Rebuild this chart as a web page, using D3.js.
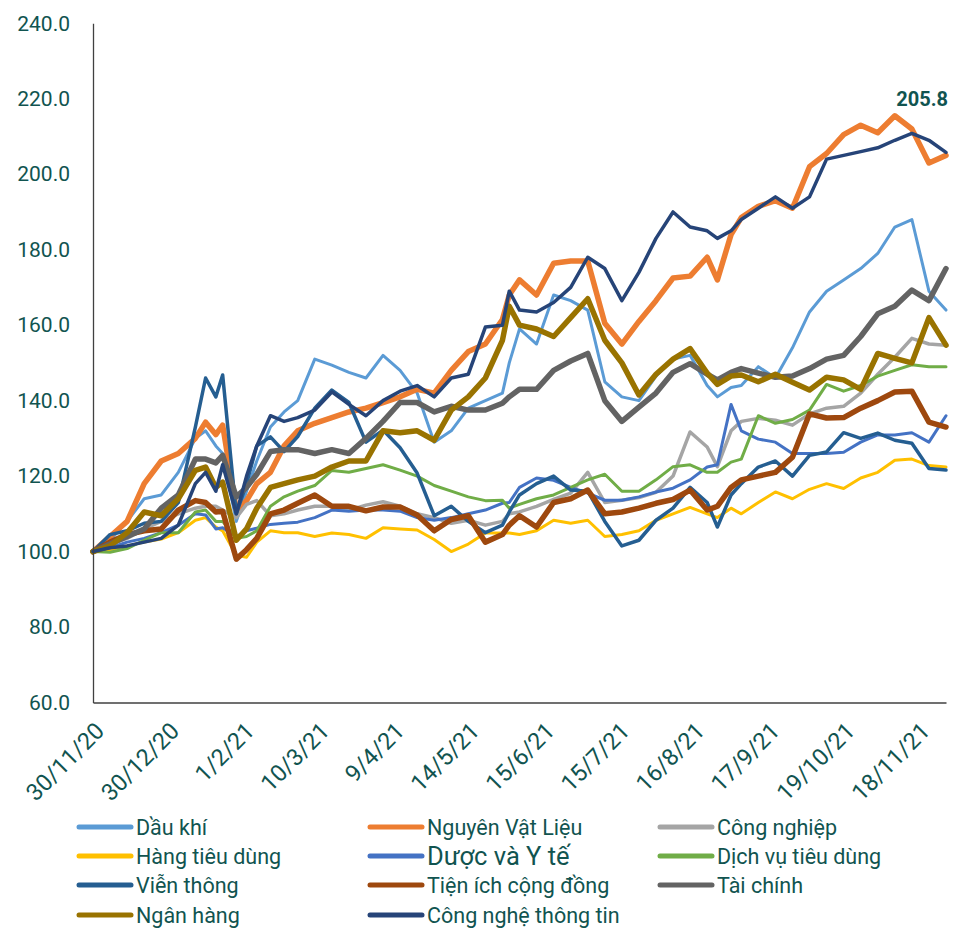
<!DOCTYPE html>
<html><head><meta charset="utf-8">
<script src="https://cdn.jsdelivr.net/npm/d3@7/dist/d3.min.js"></script>
<style>body{margin:0;background:#fff}svg{display:block}</style>
</head><body>
<svg id="chart" width="953" height="928"></svg>
<script>
// trading-day index of each sampled point (0 = 30/11/20)
const days = [0,5,10,15,20,25,30,33,36,38,42,45,48,52,56,60,65,70,75,80,85,90,95,100,105,110,115,120,122,125,130,135,140,145,150,155,160,165,170,175,180,183,187,190,195,200,205,210,215,220,225,230,235,240,245,250];
const tickDays = [0,22,44,66,88,110,132,154,176,198,220,242];
const tickLabels = ["30/11/20","30/12/20","1/2/21","10/3/21","9/4/21","14/5/21","15/6/21","15/7/21","16/8/21","17/9/21","19/10/21","18/11/21"];
const yTicks = [60,80,100,120,140,160,180,200,220,240];

const dauKhi = [100,103,108,114,115,121,130,132,128,126,108,116,124,133,137,140,151,149.4,147.5,146,152,148,142,129,132,138,140,142,150,159,155,168,166.5,164,145,141,140,146.5,151,152,144,141,143.5,144,149,146,154,163.5,169,172,175,179,186,188,169,164];
const nguyenVatLieu = [100,104,108,118,124,126,130,134.3,131,133.5,111,113.5,118,121,128,132,134,135.5,137,138,139.5,141,143,142,148,153,155,161.5,168,172,168,176.4,177,177,160.5,155,161,166.5,172.5,173,178,172,184,188.5,191.5,193,191,202,205.5,210.5,213,211,215.5,212,203,205];
const congNghiep = [100,102,103.5,106,108,110,111.5,112,112,111,109,112.5,113.5,109.5,110,111,112,112,111,112.3,113.2,112,110,109,107.5,108.3,107,108,110,110.5,112,113.8,115.5,121,113,113.6,114.3,115.7,120,131.7,127.7,122.5,132,134.5,135.3,134.8,133.5,136.5,138,138.5,142,147,151.5,156.5,155,154.7];
const hangTieuDung = [100,100.5,101.5,102.5,103.3,105,108.3,109,106.5,105.5,99,98.5,102.5,105.5,105,105,104,104.9,104.5,103.5,106.3,106,105.7,103.2,100,102,104.9,104.9,104.9,104.5,105.5,108.3,107.5,108.3,104,104.5,105.5,108.3,110,111.7,110,109,111.5,110,113,115.8,114,116.5,118,116.7,119.5,121,124.2,124.5,122.8,122.4];
const duocYTe = [100,101,102.5,103.5,105,107,110,109.7,106,106.3,104,105.5,106.2,107.2,107.5,107.8,109,111,110.7,111,111,110.7,109,108.3,109,110,111,112.8,113,117,119.5,118.9,117,115.5,113.6,113.6,114.5,115.8,116.8,119,122.4,123,139,132,129.8,129,126,126,126,126.3,129,130.9,130.9,131.5,129,136];
const dichVuTieuDung = [100,99.8,100.8,103,105,105,110.5,111,108,108,103.5,104,105.5,112,114.5,116,117.5,121.5,121,122,123,121.6,120,117.5,116,114.5,113.5,113.6,111.5,112.5,114,115,117,119,120.5,116,116,119,122.5,123,121,121,123.7,124.5,136,134,135,137.5,144.3,142.5,144,146.5,148,149.5,149,149];
const vienThong = [100,104.5,105.5,107.5,108,113,133,146,141,146.8,110,118,128,130.4,126.5,130.5,138,142.8,139.5,129,132.2,127.5,120.8,109.5,112,108,105,107,110.5,115,118,120,116.3,116,108,101.5,103,108.3,111.5,117,113,106.5,115,118,122.4,124,120,125.5,126.4,131.5,130,131.4,129.5,128.7,122,121.6];
const tienIch = [100,102.5,104.5,105.5,106,111,113.5,113,110.5,110.7,98,100.5,103.5,110,111,112.8,115,112,112,110.8,111.8,111.8,109.7,105.5,108.5,109.5,102.5,104.5,107,109.5,106.5,113,114,116.3,110,110.5,111.5,112.8,113.8,116.3,111,112,117,119,120,121,125,136.5,135.4,135.5,138,140,142.3,142.5,134.3,133];
const taiChinh = [100,102,104,106,111.5,115,124.5,124.5,123.5,125.5,114.5,117,120.5,126.5,127,127,126,127,126,130,134.5,139.5,139.5,137,138.5,137.5,137.5,139.3,141,143,143,148,150.5,152.5,140,134.5,138.3,142,147.5,149.8,147,145.5,147.5,148.5,147.3,146.2,146.5,148.5,151,152,157,163,165,169.3,166.5,175];
const nganHang = [100,101.5,105,110.5,109.5,114,121.5,122.4,117,118.4,103,106,111.5,117,118,119,120,122.4,124,124,132,131.5,132,129.5,137.5,141,146,156,165,160,159,157,162,167,156,150,141.5,147,151,153.8,147.3,144.3,146.5,146.8,145,147,144.9,142.8,146.2,145.5,143,152.5,151.2,150,162,154.7];
const congNgheThongTin = [100,101,101.5,102.5,103.5,107,118,121,116,123,110,120,128,136,134.5,135.5,137.5,142.3,139,136,140,142.5,144,141,146,147,159.5,160,169,164,163.5,166,170,178,175,166.5,174,183,190,186,185,183,185,188,191,194,191,194,204,205,206,207,209,210.8,209,205.8];

const seriesNames = ["Dầu khí","Nguyên Vật Liệu","Công nghiệp","Hàng tiêu dùng","Dược và Y tế","Dịch vụ tiêu dùng","Viễn thông","Tiện ích cộng đồng","Tài chính","Ngân hàng","Công nghệ thông tin"];
const seriesValues = [dauKhi,nguyenVatLieu,congNghiep,hangTieuDung,duocYTe,dichVuTieuDung,vienThong,tienIch,taiChinh,nganHang,congNgheThongTin];
const colors = ["#5B9BD5","#ED7D31","#A5A5A5","#FFC000","#4472C4","#70AD47","#255E91","#9E480E","#636363","#997300","#264478"];
const widths = [3,5.5,3.5,3,3,3,3.5,5.5,5.5,5.5,3.5];
const endLabel = "205.8";
const endLabelValue = 220;

const TEAL = "#115450";
const FONT = "Roboto, 'Open Sans', sans-serif";
const svg = d3.select("#chart");

const x = d3.scaleLinear().domain([0,250]).range([93,946]);
const y = d3.scaleLinear().domain([60,240]).range([702.5,23.3]);

// lines
const line = d3.line().x((d,i)=>x(days[i])).y(d=>y(d)).curve(d3.curveLinear);
svg.append("g").selectAll("path").data(seriesValues).join("path")
  .attr("d", d=>line(d))
  .attr("fill","none")
  .attr("stroke",(d,i)=>colors[i])
  .attr("stroke-width",(d,i)=>widths[i])
  .attr("stroke-linejoin","round")
  .attr("stroke-linecap","round");

// y axis
const yAxis = svg.append("g").attr("transform","translate(93,0)")
  .call(d3.axisLeft(y).tickValues(yTicks).tickSize(0).tickPadding(23).tickFormat(d3.format(".1f")));
yAxis.select(".domain").attr("stroke","#404040").attr("stroke-width",1.3);
yAxis.selectAll("text").attr("fill",TEAL).style("font-family",FONT).style("font-size","21px");

// x axis
const xAxis = svg.append("g").attr("transform","translate(0,702.5)")
  .call(d3.axisBottom(x).tickValues(tickDays).tickSize(0).tickFormat((d,i)=>tickLabels[i]));
xAxis.select(".domain").attr("stroke","#404040").attr("stroke-width",1.3);
xAxis.selectAll("text")
  .attr("fill",TEAL).style("font-family",FONT).style("font-size","23.5px")
  .attr("text-anchor","end").attr("y",0).attr("dy","0.35em")
  .attr("transform","translate(6.3,24.2) rotate(-45)");

// end data label
svg.append("text").attr("x",x(250)+2).attr("y",y(endLabelValue)+7)
  .attr("text-anchor","end").attr("fill",TEAL)
  .style("font-family",FONT).style("font-size","20px").style("font-weight","bold")
  .text(endLabel);

// legend
const colX = [79,370,660];
const rowY = [827,856,885,915];
const lg = svg.append("g").selectAll("g").data(seriesNames).join("g")
  .attr("transform",(d,i)=>`translate(${colX[i%3]},${rowY[Math.floor(i/3)]})`);
lg.append("line").attr("x1",0).attr("x2",52).attr("y1",0).attr("y2",0)
  .attr("stroke",(d,i)=>colors[i]).attr("stroke-width",5).attr("stroke-linecap","round");
lg.append("text").attr("x",57).attr("y",0).attr("dy","0.36em")
  .attr("fill",TEAL).style("font-family",FONT)
  .style("font-size",(d,i)=>i===4?"25.5px":"21.5px")
  .text(d=>d);
</script>
</body></html>
